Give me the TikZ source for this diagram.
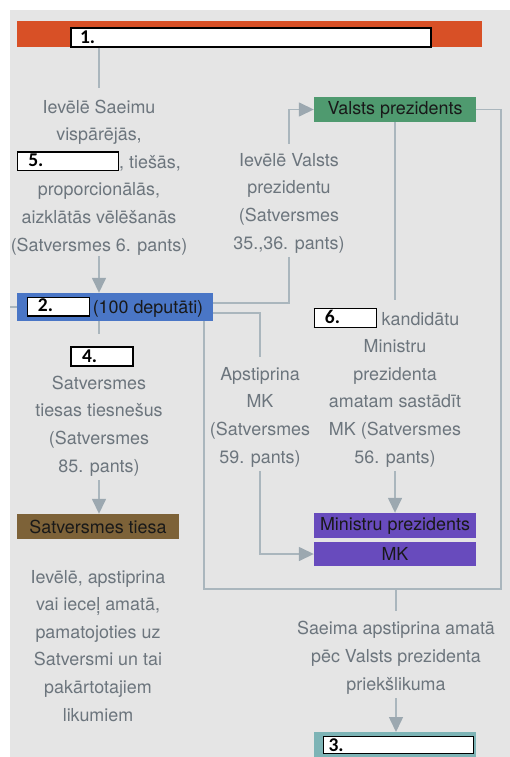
\documentclass[tikz,border=0pt]{standalone}
\usepackage{fontspec}
\setmainfont{TeX Gyre Heros}
\newfontfamily\labfont{Carlito}
\usetikzlibrary{arrows.meta}
\definecolor{bgc}{RGB}{229,229,229}
\definecolor{orangec}{RGB}{216,80,38}
\definecolor{lnc}{RGB}{170,182,189}
\definecolor{arrc}{RGB}{156,168,176}
\definecolor{txtc}{RGB}{108,117,125}
\definecolor{greenc}{RGB}{79,154,111}
\definecolor{bluec}{RGB}{74,118,198}
\definecolor{brownc}{RGB}{125,98,56}
\definecolor{purplec}{RGB}{104,75,189}
\definecolor{tealc}{RGB}{125,180,182}
\definecolor{boxtxt}{RGB}{25,25,25}
\newcommand\labsize{\fontsize{19.5}{21}\selectfont}
\newcommand\ansbox[2]{\raisebox{2pt}{\setlength\fboxsep{0pt}\setlength\fboxrule{1.2pt}\fcolorbox{black}{white}{\makebox[\dimexpr#1-2.4pt\relax][l]{\rule[-4pt]{0pt}{17.6pt}\hspace{10pt}{\labfont\bfseries\labsize\color{black}#2}}}}}
\tikzset{
  txt/.style={anchor=base, align=center, text=txtc, inner sep=0pt,
    font=\fontsize{17.9}{27.6}\selectfont},
  ln/.style={draw=lnc, line width=1.5pt},
  arr/.style={ln, -{Triangle[length=15pt,width=14pt,color=arrc]}},
  cbox/.style={inner sep=0pt, draw=none, text=boxtxt, font=\fontsize{17.9}{21}\selectfont},
  ansnode/.style={inner sep=0pt, draw=black, line width=1.2pt, fill=white, font=\labfont\bfseries\labsize, text=black},
}
\begin{document}
\begin{tikzpicture}[x=1pt,y=-1pt]
\useasboundingbox (0,0) rectangle (510,757);
\node[anchor=north west, fill=bgc, inner sep=0pt, minimum width=500pt, minimum height=747pt] (bg) at (10,10) {};

% top bar and box 1
\node[fill=orangec, inner sep=0pt, minimum width=465pt, minimum height=26pt] (topbar) at (249.5,34) {};
\node[ansnode, minimum width=360pt, minimum height=19pt] (b1) at (251,37.5) {\makebox[358pt][l]{\hspace{8pt}\raisebox{-1pt}{1.}}};

% text nodes (anchored at the baseline of their last line)
\node[txt] (tA) at (99,251) {Ievēlē Saeimu\\vispārējās,\\\ansbox{102pt}{5.}, tiešās,\\proporcionālās,\\aizklātās vēlēšanās\\(Satversmes 6. pants)};
\node[txt] (tB) at (289,249) {Ievēlē Valsts\\prezidentu\\(Satversmes\\35.,36. pants)};
\node[txt] (tD) at (395,463) {\ansbox{63pt}{6.} kandidātu\hspace*{17pt}\\Ministru\\prezidenta\\amatam sastādīt\\MK (Satversmes\\56. pants)};
\node[txt] (tE) at (260,463) {Apstiprina\\MK\\(Satversmes\\59. pants)};
\node[ansnode, minimum width=62pt, minimum height=19pt] (b4) at (102,356.5) {\makebox[60pt][l]{\hspace{10pt}\raisebox{-1pt}{4.}}};
\node[txt] (tF) at (99,472) {Satversmes\\tiesas tiesnešus\\(Satversmes\\85. pants)};
\node[txt] (tG) at (98,721) {Ievēlē, apstiprina\\vai ieceļ amatā,\\pamatojoties uz\\Satversmi un tai\\pakārtotajiem\\likumiem};
\node[txt] (tC) at (396,690) {Saeima apstiprina amatā\\pēc Valsts prezidenta\\priekšlikuma};

% coloured boxes
\node[cbox, fill=greenc, minimum width=162pt, minimum height=25pt] (vp) at (395,109.5) {Valsts prezidents};
\node[cbox, fill=bluec, minimum width=196pt, minimum height=28pt] (saeima) at (115,307) {\ansbox{63pt}{2.}\,(100 deputāti)};
\node[cbox, fill=brownc, minimum width=162pt, minimum height=25pt] (st) at (98,526.5) {Satversmes tiesa};
\node[cbox, fill=purplec, minimum width=162pt, minimum height=25pt] (mp) at (395,525.5) {Ministru prezidents};
\node[cbox, fill=purplec, minimum width=162pt, minimum height=24pt] (mk) at (395,554) {MK};
\node[fill=tealc, inner sep=0pt, minimum width=162pt, minimum height=30pt, anchor=north] (b3bg) at (395,732) {};
\node[ansnode, minimum width=150pt, minimum height=17pt, anchor=north west] (b3) at (323,736) {\makebox[148pt][l]{\hspace{4pt}3.}};

% connectors
\coordinate (cR) at (501,589);
\coordinate (cL) at (204,589);
\draw[ln, shorten >=11pt] (b1.south -| tA.north) -- (tA.north);
\draw[arr, shorten <=1pt] (tA.south) -- (tA.south |- saeima.north);
\draw[ln] (saeima.west) -- (saeima.west -| bg.west);
\draw[ln, shorten >=4pt] ([yshift=4pt]saeima.east) -| (tB.south);
\draw[arr, shorten <=9pt] (tB.north) |- (vp.west);
\draw[ln] (vp.east) -| (cR) -- (cL) -- (cL |- saeima.south);
\draw[ln, shorten >=8pt] (vp.south) -- (vp.south |- tD.north);
\draw[arr, shorten <=4pt] (tD.south) -- (tD.south |- mp.north);
\draw[ln, shorten >=10pt] ([yshift=-6pt]saeima.east) -| (tE.north);
\draw[arr, shorten <=4pt] (tE.south) |- (mk.west);
\draw[ln, shorten >=12pt] (saeima.south -| tF.north) -- (tF.north |- b4.north);
\draw[arr, shorten <=4pt] (tF.south) -- (tF.south |- st.north);
\draw[ln, shorten >=10pt] (cL -| tC.north) -- (tC.north);
\draw[arr, shorten <=4pt] (tC.south) -- (tC.south |- b3bg.north);
\end{tikzpicture}
\end{document}
